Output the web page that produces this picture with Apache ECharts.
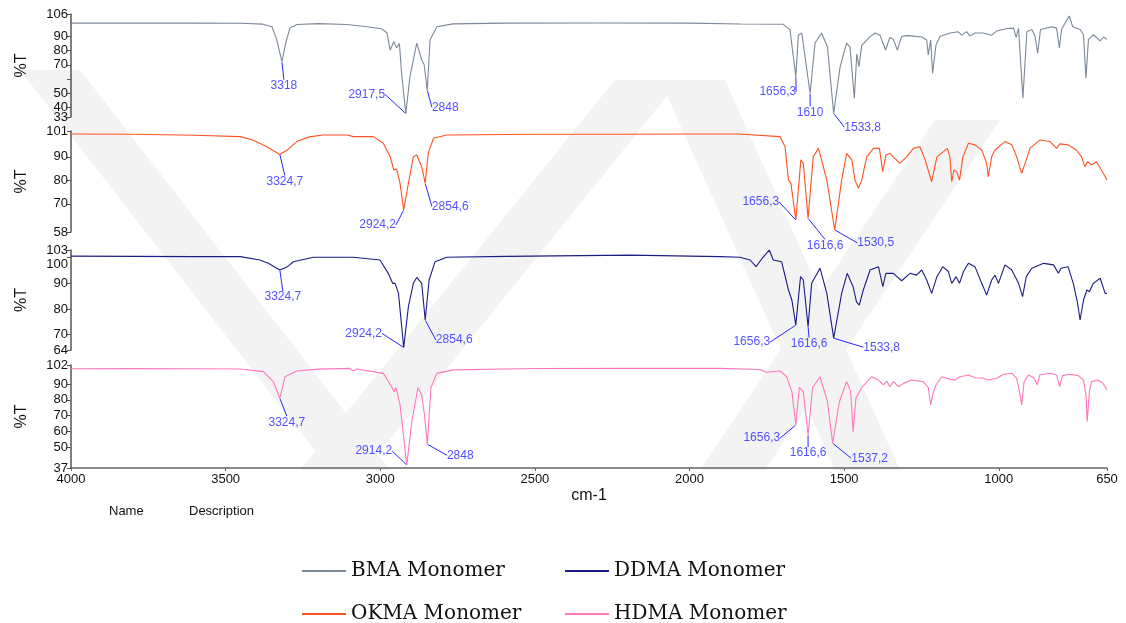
<!DOCTYPE html>
<html><head><meta charset="utf-8">
<script src="https://cdn.jsdelivr.net/npm/echarts@6/dist/echarts.min.js"></script>
<style>html,body{margin:0;padding:0;background:#fff}#c{width:1126px;height:623px}</style>
</head><body><div id="c"></div>
<script>
// ---------- DATA ----------
const seriesNames = ['BMA Monomer', 'OKMA Monomer', 'DDMA Monomer', 'HDMA Monomer'];

const bma = [[4000,99.5],[3800,99.6],[3600,99.5],[3450,99.4],[3380,98.8],[3350,97],[3335,88],[3318,72.2],[3305,86],[3292,96],[3270,98.6],[3200,99.2],[3108,98.6],[3043,97],[2995,95.5],[2978,92.5],[2968,80.5],[2956,86.4],[2947,82],[2938,85],[2931,64],[2917.5,35.5],[2904,61.5],[2882,85.3],[2866,73.4],[2858,70],[2848,52],[2839,87.6],[2817,97],[2765,99],[2600,99.5],[2300,99.6],[2000,99.5],[1836,98.9],[1697,98.7],[1675,94.7],[1656.3,61.6],[1648,91],[1637,92.5],[1610,49.8],[1594,85.4],[1573,92.5],[1554,82.8],[1533.8,35.6],[1513,68.7],[1492,85.3],[1481,82.5],[1467,46.3],[1459,77.6],[1452,68.7],[1443,83.8],[1416,90],[1400,92.5],[1384,91],[1366,80.5],[1352,89.4],[1341,88],[1328,80.5],[1314,90],[1298,90.7],[1276,90.3],[1249,89.7],[1233,87.6],[1228,77],[1220,87.6],[1214,64],[1203,84],[1190,90],[1158,92.5],[1131,93.4],[1120,91],[1104,93.5],[1093,90.3],[1077,92.5],[1050,92.5],[1023,91],[1006,94],[974,95.7],[952,96],[944,89.5],[936,95.8],[922,46.3],[909,93.4],[893,95],[883,90.6],[874,78.3],[865,95],[829,97],[813,96],[804,82],[797,95],[786,99.5],[772,104.6],[761,97],[737,95],[726,91.3],[718,60.4],[710,88],[694,91.3],[672,87],[661,89.7],[650,88]];

const okma = [[4000,99.7],[3800,99.6],[3600,99.2],[3453,98.6],[3412,97.2],[3370,94.5],[3324.7,91],[3300,93],[3270,96.5],[3230,98.5],[3184,99.3],[3108,99.3],[3087,98.6],[3022,98.6],[2990,95.8],[2968,90],[2956,84.4],[2947,84.8],[2936,78.7],[2924.2,67.4],[2909,78.7],[2893,90],[2882,90.8],[2866,85.8],[2854.6,78.7],[2845,91.5],[2828,97.9],[2785,99.3],[2500,99.6],[2200,99.6],[2000,99.7],[1841,99.7],[1707,98.6],[1691,94.3],[1680,80.1],[1672,78.7],[1656.3,63.1],[1640,88.7],[1632,87.2],[1616.6,63.8],[1600,90],[1583,93.6],[1556,80.1],[1530.5,58.9],[1508,80.1],[1492,91.5],[1475,88.7],[1465,80.1],[1454,76.6],[1443,80.1],[1427,90],[1405,93.6],[1386,93.6],[1375,83.7],[1365,90.8],[1352,91.5],[1341,90],[1320,87.2],[1298,90],[1276,93.6],[1255,94.3],[1238,88.7],[1217,79.4],[1200,90],[1179,92.2],[1166,93.6],[1158,90],[1152,79.4],[1145,84.4],[1136,83.7],[1127,80.1],[1116,90],[1098,95.8],[1077,95.1],[1055,92.9],[1039,87.2],[1034,81.5],[1023,90],[1012,92.9],[980,96.5],[958,95.1],[942,90],[926,83],[915,87.2],[899,93.6],[867,97.2],[834,96.5],[813,93.6],[803,95.5],[776,95.1],[749,92.9],[732,90],[722,85.8],[713,87.9],[700,86.5],[684,87.9],[668,84.4],[650,80.1]];

const ddma = [[4000,100.6],[3800,100.5],[3600,100.4],[3453,100.4],[3389,99.1],[3362,97.8],[3324.7,95.2],[3300,96.5],[3281,98.4],[3216,100.2],[3087,100.2],[3001,99.1],[2974,93.9],[2960,90],[2952,90],[2941,86.1],[2924.2,65],[2909,80.9],[2893,90],[2882,92.3],[2866,90],[2854.6,75.7],[2842,91.3],[2823,98.4],[2785,100.2],[2591,100.5],[2192,101],[1901,100.4],[1837,100.2],[1804,99.1],[1785,96.5],[1766,99.6],[1756,101],[1742,103],[1729,99.1],[1702,98.4],[1680,87.4],[1669,83.5],[1656.3,73.7],[1641,92.6],[1632,91.3],[1616.6,73.1],[1605,90],[1578,95.9],[1556,86.1],[1533.8,68.6],[1508,86.1],[1490,93.9],[1471,88.7],[1460,82.8],[1451,81.5],[1438,87.4],[1416,95.2],[1389,96.5],[1375,88.7],[1365,93.9],[1341,93.9],[1314,91],[1287,93.9],[1266,93.2],[1249,95.2],[1233,91.3],[1217,86.1],[1200,92.6],[1181,96.5],[1163,94.6],[1152,90],[1138,92.6],[1127,90],[1114,94.6],[1098,97.8],[1077,96.5],[1055,90],[1039,85.4],[1023,91.3],[1012,93.2],[1001,90],[980,97.2],[958,95.2],[936,90],[923,84.8],[911,92.6],[893,95.9],[855,97.8],[823,97.2],[807,93.9],[799,95.9],[776,96.5],[759,90],[746,82.8],[737,75.7],[726,83.5],[715,87.4],[707,86.7],[694,90],[672,92],[656,86.1],[650,86.1]];

const hdma = [[4000,99.6],[3800,99.7],[3600,99.6],[3453,99.5],[3378,97.8],[3346,91.5],[3324.7,81],[3308,94.6],[3270,98.2],[3200,99.4],[3098,99.9],[3087,98.2],[3076,99.5],[2990,96.7],[2963,88.3],[2956,85.2],[2949,87.8],[2936,76.8],[2914.2,38.9],[2898,66.2],[2878,87.8],[2866,83.1],[2857,70.5],[2848,52],[2836,87.8],[2817,96.7],[2764,98.9],[2500,99.8],[2200,99.9],[1901,99.9],[1772,99.2],[1751,97.4],[1707,98.2],[1686,94.6],[1669,85.2],[1656.3,64.1],[1645,87.8],[1632,85.2],[1616.6,57.8],[1602,87.8],[1578,94.6],[1554,79],[1537.2,52.6],[1515,79],[1492,91.5],[1479,85.2],[1471,59.9],[1462,81],[1443,87.8],[1411,94.6],[1389,92.5],[1373,89.4],[1362,91.9],[1352,88.3],[1341,91.5],[1324,88.3],[1308,90.4],[1282,92.5],[1244,91.5],[1228,87.8],[1220,76.8],[1212,84.6],[1203,89.4],[1184,94.6],[1158,93.1],[1141,92.5],[1125,94.6],[1098,95.7],[1077,94],[1050,93.6],[1034,92.5],[1006,93.6],[985,96.2],[958,96.8],[942,93.6],[933,85.2],[926,76.8],[918,91.5],[904,95.7],[886,93.6],[875,89.4],[867,95.7],[834,96.8],[813,95.7],[803,88.3],[794,95.3],[770,96.2],[743,95.3],[726,92.5],[718,83.1],[714,66.2],[707,85.2],[700,91.5],[679,92.5],[663,90.4],[650,86.2]];

const xTicks = [4000, 3500, 3000, 2500, 2000, 1500, 1000, 650];
const yRanges = [[33, 106], [58, 101], [64, 103], [37, 102]];
const yTicks = [[106, 90, 80, 70, 60, 50, 40, 33], [101, 90, 80, 70, 58], [103, 100, 90, 80, 70, 64], [102, 90, 80, 70, 60, 50, 37]];
const yTickLabels = [[106, 90, 80, 70, 50, 40, 33], [101, 90, 80, 70, 58], [103, 100, 90, 80, 70, 64], [102, 90, 80, 70, 60, 50, 37]];

const bmaPeaks = [3318, 2917.5, 2848, 1656.3, 1610, 1533.8];
const okmaPeaks = [3324.7, 2924.2, 2854.6, 1656.3, 1616.6, 1530.5];
const ddmaPeaks = [3324.7, 2924.2, 2854.6, 1656.3, 1616.6, 1533.8];
const hdmaPeaks = [3324.7, 2914.2, 2848, 1656.3, 1616.6, 1537.2];

// ---------- LAYOUT / STYLE ----------
const spectra = [bma, okma, ddma, hdma];
const peakLists = [bmaPeaks, okmaPeaks, ddmaPeaks, hdmaPeaks];
const colors = ['#7b8898', '#ff5220', '#1c1c85', '#ff78bb'];
const panels = [{top: 14, height: 103}, {top: 131, height: 101}, {top: 250, height: 100}, {top: 365, height: 103}];
// labels that sit too close to a neighbour are drawn on a second, line-less axis so none is auto-hidden
const crowdedLabels = [[33], [], [100], []];
const crowdedAlign = ['middle', 'middle', 'top', 'middle'];
const legendPos = [[302, 560], [302, 603], [565, 560], [565, 603]];
const labelOffsets = [
  [[2, 24], [-39, -19], [18, 17], [-18, 15], [0, 19], [29, 14]],
  [[5, 27], [-26, 15], [25, 23], [-35, -18], [17, 27], [41, 13]],
  [[3, 27], [-40, -14], [29, 20], [-44, 17], [1, 17], [48, 9]],
  [[7, 24], [-33, -14], [33, 11], [-34, 13], [0, 18], [37, 15]]
];
const FONT = 'Liberation Sans, Arial, sans-serif';
const ANN = '#2626ff';

const grid = [], xAxis = [], yAxis = [], series = [];
const labelStyle = {fontFamily: FONT, fontSize: 13, color: '#111', margin: 3, showMinLabel: true, showMaxLabel: true, hideOverlap: false, formatter: v => String(v)};
panels.forEach((p, i) => {
  grid.push({left: 71, right: 19, top: p.top, height: p.height});
  const last = i === 3;
  xAxis.push({
    type: 'value', gridIndex: i, min: 650, max: 4000, inverse: true, show: last,
    name: last ? 'cm-1' : '', nameLocation: 'middle', nameGap: 20,
    nameTextStyle: {fontFamily: FONT, fontSize: 16, color: '#111'},
    axisLine: {show: true, lineStyle: {color: '#666', width: 1.5}},
    axisTick: {show: true, length: 3, customValues: xTicks, lineStyle: {color: '#666'}},
    axisLabel: Object.assign({}, labelStyle, {customValues: xTicks, margin: 5}),
    splitLine: {show: false}
  });
  yAxis.push({
    type: 'value', gridIndex: i, min: yRanges[i][0], max: yRanges[i][1],
    name: '%T', nameLocation: 'middle', nameGap: 41,
    nameTextStyle: {fontFamily: FONT, fontSize: 16, color: '#111'},
    axisLine: {show: true, lineStyle: {color: '#555', width: 1.5}},
    axisTick: {show: true, length: 4, customValues: yTicks[i], lineStyle: {color: '#555'}},
    axisLabel: Object.assign({}, labelStyle, {customValues: yTickLabels[i].filter(v => crowdedLabels[i].indexOf(v) < 0)}),
    splitLine: {show: false}
  });
  series.push({
    name: seriesNames[i], type: 'line', xAxisIndex: i, yAxisIndex: i,
    data: spectra[i], showSymbol: false, symbol: 'none', smooth: false,
    lineStyle: {color: colors[i], width: 1.1}, itemStyle: {color: colors[i]}, z: 3
  });
  const pts = peakLists[i].map(w => {
    const hit = spectra[i].find(d => d[0] === w);
    return {value: [w, hit[1]], name: String(w).replace('.', ',')};
  });
  series.push({
    type: 'scatter', xAxisIndex: i, yAxisIndex: i, data: pts, symbolSize: 1, silent: true,
    itemStyle: {color: 'rgba(0,0,0,0)'},
    label: {show: true, position: 'inside', formatter: '{b}', color: ANN, fontFamily: FONT, fontSize: 12},
    labelLayout: prm => ({dx: labelOffsets[i][prm.dataIndex][0], dy: labelOffsets[i][prm.dataIndex][1]}),
    labelLine: {show: true, lineStyle: {color: ANN, width: 1}},
    z: 5
  });
});
panels.forEach((p, i) => {
  if (!crowdedLabels[i].length) return;
  yAxis.push({
    type: 'value', gridIndex: i, min: yRanges[i][0], max: yRanges[i][1], position: 'left',
    axisLine: {show: false}, axisTick: {show: false}, splitLine: {show: false},
    axisLabel: Object.assign({}, labelStyle, {customValues: crowdedLabels[i], margin: 3, verticalAlign: crowdedAlign[i]})
  });
});

const legend = seriesNames.map((n, i) => ({
  data: [n], left: legendPos[i][0], top: legendPos[i][1], orient: 'horizontal', icon: 'rect',
  itemWidth: 44, itemHeight: 2, selectedMode: false, padding: 0,
  textStyle: {fontFamily: 'DejaVu Serif', fontSize: 20, color: '#111', lineHeight: 22}
}));

const band = pts => ({type: 'polygon', silent: true, z: -10, shape: {points: pts}, style: {fill: '#f3f3f3'}});

const option = {
  animation: false,
  backgroundColor: '#fff',
  grid, xAxis, yAxis, series, legend,
  graphic: [
    band([[20, 70], [80, 70], [390, 470], [330, 470]]),
    band([[300, 470], [365, 470], [680, 80], [615, 80]]),
    band([[660, 80], [725, 80], [900, 470], [835, 470]]),
    band([[700, 470], [765, 470], [1000, 120], [935, 120]]),
    {type: 'text', left: 109, top: 505, silent: true, style: {text: 'Name', font: '13px ' + FONT, fill: '#111'}},
    {type: 'text', left: 189, top: 505, silent: true, style: {text: 'Description', font: '13px ' + FONT, fill: '#111'}}
  ]
};

const chart = echarts.init(document.getElementById('c'), null, {renderer: 'canvas'});
chart.setOption(option);
</script>
</body></html>
